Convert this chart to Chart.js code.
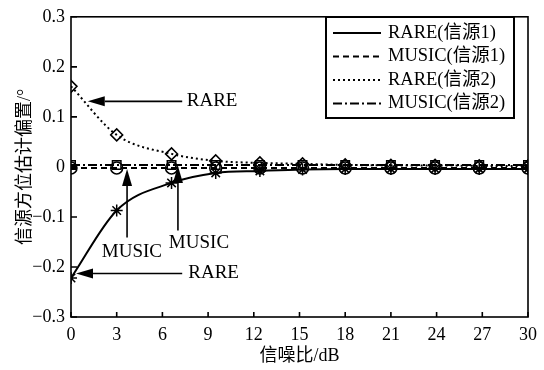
<!DOCTYPE html>
<html>
<head>
<meta charset="utf-8">
<script src="https://cdn.jsdelivr.net/npm/chart.js@4.4.1/dist/chart.umd.min.js"></script>
<style>
  html, body { margin: 0; padding: 0; background: #fff; }
  #wrap { width: 544px; height: 370px; }
</style>
</head>
<body>
<div id="wrap"><canvas id="graf"></canvas></div>
<script>
// data
const snr = [0, 3, 6.6, 9.5, 12.4, 15.2, 18, 21, 23.9, 26.8, 30];
const rare1 = [-0.222, -0.087, -0.032, -0.012, -0.008, -0.005, -0.004, -0.004, -0.004, -0.004, -0.004];
const music1 = [-0.002, -0.002, -0.002, -0.002, -0.002, -0.002, -0.002, -0.002, -0.002, -0.002, -0.002];
const rare2 = [0.161, 0.064, 0.026, 0.012, 0.008, 0.006, 0.004, 0.003, 0.003, 0.002, 0.002];
const music2 = [0.004, 0.004, 0.004, 0.004, 0.004, 0.004, 0.004, 0.004, 0.004, 0.004, 0.004];
const xTicks = [0, 3, 6, 9, 12, 15, 18, 21, 24, 27, 30];
const yTicks = [-0.3, -0.2, -0.1, 0, 0.1, 0.2, 0.3];
const names = ['RARE(信源1)', 'MUSIC(信源1)', 'RARE(信源2)', 'MUSIC(信源2)'];

// arrows with text, in data coordinates
const notes = [
  { text: 'RARE', from: [7.3, 0.131], to: [1.1, 0.131], at: [7.6, 0.131], align: 'left' },
  { text: 'MUSIC', from: [3.68, -0.141], to: [3.68, -0.004], at: [4.0, -0.171], align: 'center' },
  { text: 'MUSIC', from: [7.02, -0.127], to: [7.02, 0.002], at: [8.4, -0.153], align: 'center' },
  { text: 'RARE', from: [7.3, -0.213], to: [0.33, -0.213], at: [7.7, -0.213], align: 'left' }
];

const FONT = '"Liberation Serif", "Times New Roman", "Noto Sans CJK SC", serif';
const dashes = [[], [6, 4], [2, 3], [9, 3, 2, 3]];
const marks = ['star', 'circle', 'rectRot', 'rect'];
const series = [rare1, music1, rare2, music2];

const sets = series.map((s, i) => ({
  label: names[i],
  data: s.map((v, k) => ({ x: snr[k], y: v })),
  borderColor: '#000',
  backgroundColor: 'rgba(0,0,0,0)',
  borderWidth: 2,
  borderDash: dashes[i],
  pointStyle: marks[i],
  pointRadius: 6,
  pointBorderWidth: 1.5,
  pointBorderColor: '#000',
  pointBackgroundColor: 'rgba(0,0,0,0)',
  cubicInterpolationMode: 'monotone',
  fill: false
}));

const extras = {
  id: 'extras',
  afterDraw(chart) {
    const c = chart.ctx, a = chart.chartArea;
    const sx = chart.scales.x, sy = chart.scales.y;
    c.save();
    // frame
    c.strokeStyle = '#000';
    c.lineWidth = 1.6;
    c.setLineDash([]);
    c.strokeRect(a.left, a.top, a.right - a.left, a.bottom - a.top);
    // inward ticks
    c.beginPath();
    xTicks.forEach(t => {
      const p = sx.getPixelForValue(t);
      c.moveTo(p, a.bottom); c.lineTo(p, a.bottom - 5);
    });
    yTicks.forEach(t => {
      const p = sy.getPixelForValue(t);
      c.moveTo(a.left, p); c.lineTo(a.left + 6, p);
    });
    c.stroke();

    // arrows
    c.fillStyle = '#000';
    c.font = '19px ' + FONT;
    c.textBaseline = 'middle';
    notes.forEach(n => {
      const x1 = sx.getPixelForValue(n.from[0]), y1 = sy.getPixelForValue(n.from[1]);
      const x2 = sx.getPixelForValue(n.to[0]), y2 = sy.getPixelForValue(n.to[1]);
      const ang = Math.atan2(y2 - y1, x2 - x1);
      const hl = 17, hw = 5;
      const bx = x2 - hl * Math.cos(ang), by = y2 - hl * Math.sin(ang);
      c.lineWidth = 1.6;
      c.beginPath(); c.moveTo(x1, y1); c.lineTo(bx, by); c.stroke();
      c.beginPath();
      c.moveTo(x2, y2);
      c.lineTo(bx + hw * Math.sin(ang), by - hw * Math.cos(ang));
      c.lineTo(bx - hw * Math.sin(ang), by + hw * Math.cos(ang));
      c.closePath(); c.fill();
      c.textAlign = n.align;
      c.fillText(n.text, sx.getPixelForValue(n.at[0]), sy.getPixelForValue(n.at[1]));
    });

    // legend
    const L = 326, T = 17, R = 514, B = 118;
    c.fillStyle = '#fff';
    c.fillRect(L, T, R - L, B - T);
    c.lineWidth = 2;
    c.setLineDash([]);
    c.strokeRect(L, T, R - L, B - T);
    c.fillStyle = '#000';
    c.font = '18.5px ' + FONT;
    c.textAlign = 'left';
    names.forEach((nm, i) => {
      const y = 33 + i * 23.5;
      c.lineWidth = 1.8;
      c.setLineDash(dashes[i]);
      c.beginPath(); c.moveTo(333, y); c.lineTo(381, y); c.stroke();
      c.setLineDash([]);
      c.fillText(nm, 388, y);
    });
    c.restore();
  }
};

new Chart(document.getElementById('graf').getContext('2d'), {
  type: 'line',
  data: { datasets: sets },
  options: {
    responsive: true,
    maintainAspectRatio: false,
    animation: false,
    layout: { padding: { left: 0, top: 15, right: 16, bottom: 0 } },
    plugins: { legend: { display: false }, tooltip: { enabled: false } },
    scales: {
      x: {
        type: 'linear',
        min: 0, max: 30,
        afterBuildTicks: s => { s.ticks = xTicks.map(v => ({ value: v })); },
        afterFit: s => { s.height = 53; },
        grid: { display: false, drawTicks: false },
        border: { display: false },
        ticks: { color: '#000', padding: 7, maxRotation: 0, font: { family: FONT, size: 18 } },
        title: { display: true, text: '信噪比/dB', color: '#000', padding: { top: 0, bottom: 3 }, font: { family: FONT, size: 18 } }
      },
      y: {
        min: -0.3, max: 0.3,
        afterBuildTicks: s => { s.ticks = yTicks.map(v => ({ value: v })); },
        afterFit: s => { s.width = 71; },
        grid: { display: false, drawTicks: false },
        border: { display: false },
        ticks: {
          color: '#000', padding: 6, font: { family: FONT, size: 18 },
          callback: v => (v < 0 ? '\u2212' : '') + (Math.abs(v) < 1e-9 ? '0' : Math.abs(v).toFixed(1))
        },
        title: { display: true, text: '信源方位估计偏置/°', color: '#000', padding: { top: 14, bottom: 0 }, font: { family: FONT, size: 18 } }
      }
    }
  },
  plugins: [extras]
});
</script>
</body>
</html>
